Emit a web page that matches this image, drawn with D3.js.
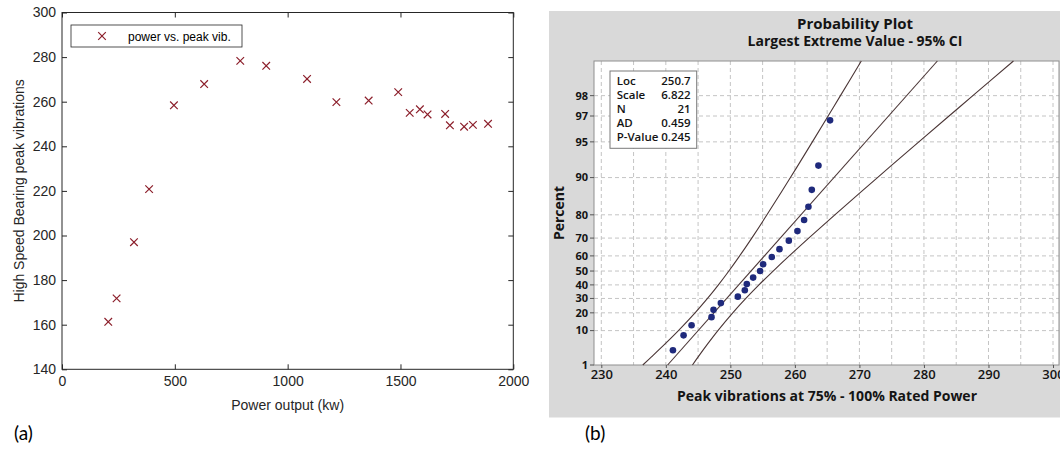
<!DOCTYPE html>
<html>
<head>
<meta charset="utf-8">
<script src="https://cdn.jsdelivr.net/npm/d3@7"></script>
<style>
  body { margin: 0; background: #fff; }
  svg { display: block; }
</style>
</head>
<body>
<svg id="chart" width="1060" height="449"></svg>
<script>
// (a) power vs. peak vibration scatter
const powerKw = [205, 242, 319, 386, 496, 630, 790, 905, 1086, 1216, 1359, 1490, 1541, 1586, 1620, 1698, 1719, 1782, 1821, 1888];
const peakVib = [161.3, 171.8, 197.0, 220.8, 258.4, 267.9, 278.3, 276.1, 270.2, 259.8, 260.5, 264.3, 255.0, 256.6, 254.3, 254.5, 249.4, 248.8, 249.6, 250.1];
const xTicksA = [0, 500, 1000, 1500, 2000];
const yTicksA = [140, 160, 180, 200, 220, 240, 260, 280, 300];

// (b) largest extreme value probability plot
const vibSorted = [241.10, 242.75, 243.99, 247.08, 247.39, 248.53, 251.16, 252.24, 252.55, 253.53, 254.61,
                   255.08, 256.42, 257.61, 259.06, 260.40, 261.43, 262.10, 262.62, 263.65, 265.45];
const vibPercent = [3.27, 7.94, 12.62, 17.29, 21.96, 26.64, 31.31, 35.98, 40.65, 45.33, 50.00,
                    54.67, 59.35, 64.02, 68.69, 73.36, 78.04, 82.71, 87.38, 92.06, 96.73];
const ciPercent = [1, 2, 5, 10, 20, 30, 40, 50, 60, 70, 80, 90, 95, 97, 98, 99];
const ciLower = [236.43, 237.77, 239.92, 241.95, 244.53, 246.46, 248.15, 249.77, 251.44, 253.32, 255.67, 259.31, 262.71, 265.15, 267.06, 270.29];
const ciUpper = [244.13, 245.01, 246.51, 248.07, 250.37, 252.40, 254.43, 256.63, 259.12, 262.14, 266.19, 272.80, 279.21, 283.89, 287.58, 293.87];
const fitPercent = [1, 99];
const fitValue = [240.28, 282.08];
const xTicksB = [230, 240, 250, 260, 270, 280, 290, 300];
const xGridB = d3.range(230, 301, 5);
const yTicksB = [1, 10, 20, 30, 40, 50, 60, 70, 80, 90, 95, 97, 98];
const statLabels = ["Loc", "Scale", "N", "AD", "P-Value"];
const statValues = ["250.7", "6.822", "21", "0.459", "0.245"];

const svg = d3.select("#chart");

// ---------- panel (a) ----------
const A = { left: 62, right: 513.3, top: 12.5, bottom: 369.3 };
const fontA = "'Liberation Sans', Arial, sans-serif";
const inkA = "#262626";
const xA = d3.scaleLinear().domain([0, 2000]).range([A.left, A.right]);
const yA = d3.scaleLinear().domain([140, 300]).range([A.bottom, A.top]);

const gA = svg.append("g");

gA.append("rect")
  .attr("x", A.left).attr("y", A.top)
  .attr("width", A.right - A.left).attr("height", A.bottom - A.top)
  .attr("fill", "#fff").attr("stroke", inkA).attr("stroke-width", 1);

function styleAxis(g) {
  g.select(".domain").remove();
  g.selectAll("line").attr("stroke", inkA);
  g.selectAll("text").attr("fill", inkA).style("font-family", fontA).style("font-size", "14px");
}

gA.append("g").attr("transform", `translate(0,${A.bottom})`)
  .call(d3.axisBottom(xA).tickValues(xTicksA).tickFormat(d3.format("d"))
    .tickSizeInner(-5).tickSizeOuter(0).tickPadding(7))
  .call(styleAxis);
gA.append("g").attr("transform", `translate(0,${A.top})`)
  .call(d3.axisTop(xA).tickValues(xTicksA).tickSizeInner(-5).tickSizeOuter(0).tickFormat(""))
  .call(styleAxis);
gA.append("g").attr("transform", `translate(${A.left},0)`)
  .call(d3.axisLeft(yA).tickValues(yTicksA).tickSizeInner(-5).tickSizeOuter(0).tickPadding(6))
  .call(styleAxis);
gA.append("g").attr("transform", `translate(${A.right},0)`)
  .call(d3.axisRight(yA).tickValues(yTicksA).tickSizeInner(-5).tickSizeOuter(0).tickFormat(""))
  .call(styleAxis);

const crossPath = "M-3.8,-3.8L3.8,3.8M-3.8,3.8L3.8,-3.8";
const markColor = "#8c1f2b";

gA.append("g").selectAll("path")
  .data(powerKw.map((p, i) => [p, peakVib[i]]))
  .join("path")
  .attr("transform", d => `translate(${xA(d[0])},${yA(d[1])})`)
  .attr("d", crossPath)
  .attr("fill", "none").attr("stroke", markColor).attr("stroke-width", 1.2);

// legend
const leg = gA.append("g");
leg.append("rect").attr("x", 71).attr("y", 25).attr("width", 171).attr("height", 22)
  .attr("fill", "#fff").attr("stroke", inkA).attr("stroke-width", 0.8);
leg.append("path").attr("transform", "translate(102,36)").attr("d", crossPath)
  .attr("fill", "none").attr("stroke", markColor).attr("stroke-width", 1.2);
leg.append("text").attr("x", 128).attr("y", 40.5)
  .style("font-family", fontA).style("font-size", "12px").attr("fill", "#000")
  .text("power vs. peak vib.");

gA.append("text")
  .attr("x", (A.left + A.right) / 2).attr("y", 410)
  .attr("text-anchor", "middle")
  .style("font-family", fontA).style("font-size", "14px").attr("fill", inkA)
  .text("Power output (kw)");

gA.append("text")
  .attr("transform", `translate(24,${(A.top + A.bottom) / 2}) rotate(-90)`)
  .attr("text-anchor", "middle")
  .style("font-family", fontA).style("font-size", "14px").attr("fill", inkA)
  .text("High Speed Bearing peak vibrations");

// ---------- panel (b) ----------
const B = { left: 594, right: 1059, top: 61, bottom: 365 };
const fontB = "'Open Sans', 'Noto Sans', sans-serif";
const inkB = "#141414";
const gumbel = p => -Math.log(-Math.log(p / 100));
const xB = d3.scaleLinear().domain([230, 300]).range([601.3, 1053]);
const tB = d3.scaleLinear().domain([gumbel(1), gumbel(99)]).range([B.bottom, B.top]);
const yB = p => tB(gumbel(p));

const gB = svg.append("g");

gB.append("rect").attr("x", 549).attr("y", 11).attr("width", 520).attr("height", 406.5)
  .attr("fill", "#d9d9d9");

gB.append("rect")
  .attr("x", B.left).attr("y", B.top)
  .attr("width", B.right - B.left).attr("height", B.bottom - B.top)
  .attr("fill", "#fff");

// grid
gB.append("g").selectAll("line")
  .data(xGridB)
  .join("line")
  .attr("x1", d => xB(d)).attr("x2", d => xB(d))
  .attr("y1", B.top).attr("y2", B.bottom)
  .attr("stroke", "#c4c4c4").attr("stroke-dasharray", "4,3").attr("stroke-width", 1);
gB.append("g").selectAll("line")
  .data(yTicksB.slice(1))
  .join("line")
  .attr("x1", B.left).attr("x2", B.right)
  .attr("y1", d => yB(d)).attr("y2", d => yB(d))
  .attr("stroke", "#c4c4c4").attr("stroke-dasharray", "4,3").attr("stroke-width", 1);

gB.append("rect")
  .attr("x", B.left).attr("y", B.top)
  .attr("width", B.right - B.left).attr("height", B.bottom - B.top)
  .attr("fill", "none").attr("stroke", "#8f8f8f").attr("stroke-width", 1);

// axes ticks
const yTickG = gB.append("g").selectAll("g")
  .data(yTicksB)
  .join("g")
  .attr("transform", d => `translate(${B.left},${yB(d)})`);
yTickG.append("line").attr("x1", -4).attr("x2", 0).attr("stroke", "#555");
yTickG.append("text")
  .attr("x", -6).attr("dy", "0.35em").attr("text-anchor", "end")
  .style("font-family", fontB).style("font-size", "11px").style("font-weight", 700)
  .attr("fill", inkB)
  .text(d => d);

gB.append("g").attr("transform", `translate(0,${B.bottom})`)
  .call(d3.axisBottom(xB).tickValues(xTicksB).tickSizeInner(3).tickSizeOuter(0).tickPadding(2))
  .call(g => {
    g.select(".domain").remove();
    g.selectAll("line").attr("stroke", "#555");
    g.selectAll("text").attr("fill", inkB)
      .style("font-family", fontB).style("font-size", "13px").style("font-weight", 600);
  });

// CI bands and fitted line
const lineColor = "#4a3535";
const curve = d3.line().x(d => xB(d[1])).y(d => yB(d[0])).curve(d3.curveCatmullRom);
gB.append("path")
  .attr("d", curve(ciPercent.map((p, i) => [p, ciLower[i]])))
  .attr("fill", "none").attr("stroke", lineColor).attr("stroke-width", 1.1);
gB.append("path")
  .attr("d", curve(ciPercent.map((p, i) => [p, ciUpper[i]])))
  .attr("fill", "none").attr("stroke", lineColor).attr("stroke-width", 1.1);
gB.append("path")
  .attr("d", d3.line().x(d => xB(d[1])).y(d => yB(d[0]))(fitPercent.map((p, i) => [p, fitValue[i]])))
  .attr("fill", "none").attr("stroke", lineColor).attr("stroke-width", 1.1);

// data points
gB.append("g").selectAll("circle")
  .data(vibSorted.map((v, i) => [v, vibPercent[i]]))
  .join("circle")
  .attr("cx", d => xB(d[0])).attr("cy", d => yB(d[1]))
  .attr("r", 3.3)
  .attr("fill", "#1f2a7c");

// stats box
const stats = gB.append("g");
stats.append("rect").attr("x", 610).attr("y", 71).attr("width", 86.7).attr("height", 77.3)
  .attr("fill", "#fff").attr("stroke", "#7a7a7a").attr("stroke-width", 1);
statLabels.forEach((lab, i) => {
  const y = 85 + i * 13.9;
  stats.append("text").attr("x", 616.7).attr("y", y)
    .style("font-family", fontB).style("font-size", "11.5px").style("font-weight", 600)
    .attr("fill", inkB).text(lab);
  stats.append("text").attr("x", 690.7).attr("y", y).attr("text-anchor", "end")
    .style("font-family", fontB).style("font-size", "11.5px").style("font-weight", 600)
    .attr("fill", inkB).text(statValues[i]);
});

// titles
gB.append("text").attr("x", 855).attr("y", 28.5).attr("text-anchor", "middle")
  .style("font-family", fontB).style("font-size", "15px").style("font-weight", 700)
  .attr("fill", inkB).text("Probability Plot");
gB.append("text").attr("x", 855).attr("y", 45.5).attr("text-anchor", "middle")
  .style("font-family", fontB).style("font-size", "14px").style("font-weight", 700)
  .attr("fill", inkB).text("Largest Extreme Value - 95% CI");
gB.append("text").attr("x", 827).attr("y", 400.5).attr("text-anchor", "middle")
  .style("font-family", fontB).style("font-size", "14px").style("font-weight", 700)
  .attr("fill", inkB).text("Peak vibrations at 75% - 100% Rated Power");
gB.append("text")
  .attr("transform", `translate(564,${(B.top + B.bottom) / 2}) rotate(-90)`)
  .attr("text-anchor", "middle")
  .style("font-family", fontB).style("font-size", "14px").style("font-weight", 700)
  .attr("fill", inkB).text("Percent");

// panel letters
svg.append("text").attr("x", 14).attr("y", 440)
  .style("font-family", "Lato, 'Open Sans', sans-serif").style("font-size", "19px")
  .attr("fill", "#000").text("(a)");
svg.append("text").attr("x", 585).attr("y", 440)
  .style("font-family", "Lato, 'Open Sans', sans-serif").style("font-size", "19px")
  .attr("fill", "#000").text("(b)");
</script>
</body>
</html>
